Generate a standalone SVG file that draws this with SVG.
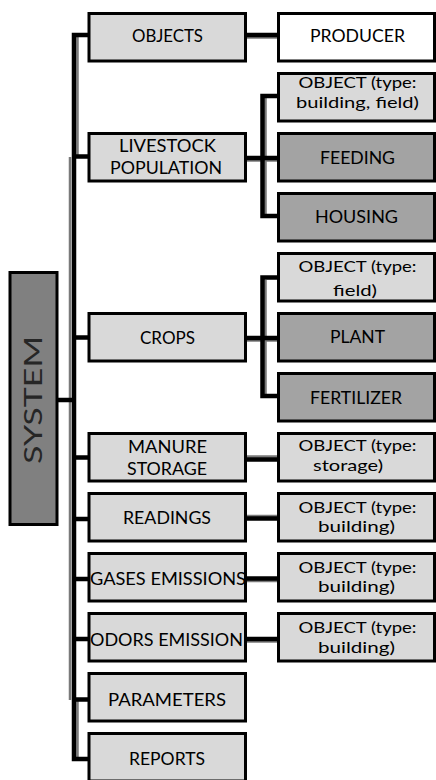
<svg xmlns="http://www.w3.org/2000/svg" width="436" height="780" viewBox="0 0 436 780">
<style>
.b{stroke:#000;stroke-width:3}
.m{fill:#d9d9d9}
.d{fill:#a3a3a3}
.w{fill:#fff}
.s{fill:#808080}
text{font-family:Lato,"Liberation Sans",sans-serif;fill:#000;text-anchor:middle}
.t1{font-size:18px}
.t2{font-size:16.5px}
.t3{font-size:15px}
.k{stroke:#000;stroke-width:4.5;fill:none}
.g{stroke:#7a7a7a;stroke-width:2.5;fill:none}
</style>
<rect width="436" height="780" fill="#fff"/>
<g id="connectors">
  <path class="g" d="M77.5 37V157M70 157V700M77.5 700V757"/>
  <path class="k" d="M89 35H74V759H89M72 156.5H89M72 337.5H89M72 457.5H89M72 519H89M72 579H89M72 639H89M72 699.5H89M57 400H74"/>
  <path class="g" d="M247 37.5H278M247 160.5H278M265.5 98V214M247 340.5H278M265.5 280V394M247 456.5H278M247 516H278M247 581H278M247 641.5H278"/>
  <path class="k" d="M245 35H278M245 158H278M278 96H262.5V216H278M245 338H278M278 277.5H262.5V396H278M245 459.5H278M245 518.5H278M245 578.5H278M245 639H278"/>
</g>
<g id="system"><rect class="b s" x="10" y="272.5" width="47" height="252"/><text transform="translate(42 400) rotate(-90)" style="font-size:24.5px;fill:#262626" textLength="128" lengthAdjust="spacingAndGlyphs">SYSTEM</text></g>
<g id="objects"><rect class="b m" x="89" y="13.5" width="156.5" height="47.5"/><text class="t1" x="167.5" y="42" textLength="71" lengthAdjust="spacingAndGlyphs">OBJECTS</text></g>
<g id="livestock"><rect class="b m" x="89" y="133.5" width="156.5" height="47.5"/><text class="t1" x="167.5" y="152" textLength="97" lengthAdjust="spacingAndGlyphs">LIVESTOCK</text><text class="t1" x="166" y="173.5" textLength="112" lengthAdjust="spacingAndGlyphs">POPULATION</text></g>
<g id="crops"><rect class="b m" x="89" y="313.5" width="156.5" height="47.5"/><text class="t1" x="167.5" y="344" textLength="55" lengthAdjust="spacingAndGlyphs">CROPS</text></g>
<g id="manure"><rect class="b m" x="89" y="433.5" width="156.5" height="47.5"/><text class="t1" x="167.5" y="453" textLength="79" lengthAdjust="spacingAndGlyphs">MANURE</text><text class="t1" x="167" y="475" textLength="80" lengthAdjust="spacingAndGlyphs">STORAGE</text></g>
<g id="readings"><rect class="b m" x="89" y="493.5" width="156.5" height="47.5"/><text class="t1" x="167" y="524" textLength="88" lengthAdjust="spacingAndGlyphs">READINGS</text></g>
<g id="gases"><rect class="b m" x="89" y="553.5" width="156.5" height="47.5"/><text class="t1" x="168" y="585" textLength="156" lengthAdjust="spacingAndGlyphs">GASES EMISSIONS</text></g>
<g id="odors"><rect class="b m" x="89" y="613.5" width="156.5" height="47.5"/><text class="t1" x="166.5" y="645.5" textLength="153" lengthAdjust="spacingAndGlyphs">ODORS EMISSION</text></g>
<g id="parameters"><rect class="b m" x="89" y="673.5" width="156.5" height="47.5"/><text class="t1" x="167" y="706" textLength="118" lengthAdjust="spacingAndGlyphs">PARAMETERS</text></g>
<g id="reports"><rect class="b m" x="89" y="733.5" width="156.5" height="47.5"/><text class="t1" x="167" y="765" textLength="76" lengthAdjust="spacingAndGlyphs">REPORTS</text></g>
<g id="producer"><rect class="b w" x="278.5" y="13.5" width="156" height="47.5"/><text class="t1" x="357.5" y="42" textLength="95" lengthAdjust="spacingAndGlyphs">PRODUCER</text></g>
<g id="obj1"><rect class="b m" x="278.5" y="73.5" width="156" height="47.5"/><text class="t3" x="357.5" y="88" textLength="118" lengthAdjust="spacingAndGlyphs">OBJECT (type:</text><text class="t3" x="357.5" y="108" textLength="123" lengthAdjust="spacingAndGlyphs">building, field)</text></g>
<g id="feeding"><rect class="b d" x="278.5" y="133.5" width="156" height="47.5"/><text class="t1" x="357.5" y="163.5" textLength="75" lengthAdjust="spacingAndGlyphs">FEEDING</text></g>
<g id="housing"><rect class="b d" x="278.5" y="193.5" width="156" height="47.5"/><text class="t1" x="356.5" y="223" textLength="83" lengthAdjust="spacingAndGlyphs">HOUSING</text></g>
<g id="obj2"><rect class="b m" x="278.5" y="253.5" width="156" height="47.5"/><text class="t3" x="357.5" y="272" textLength="118" lengthAdjust="spacingAndGlyphs">OBJECT (type:</text><text class="t3" x="355" y="296" textLength="44" lengthAdjust="spacingAndGlyphs">field)</text></g>
<g id="plant"><rect class="b d" x="278.5" y="313.5" width="156" height="47.5"/><text class="t1" x="357.5" y="343" textLength="55" lengthAdjust="spacingAndGlyphs">PLANT</text></g>
<g id="fertilizer"><rect class="b d" x="278.5" y="373.5" width="156" height="47.5"/><text class="t1" x="356" y="404" textLength="92" lengthAdjust="spacingAndGlyphs">FERTILIZER</text></g>
<g id="obj3"><rect class="b m" x="278.5" y="433.5" width="156" height="47.5"/><text class="t3" x="357.5" y="451" textLength="118" lengthAdjust="spacingAndGlyphs">OBJECT (type:</text><text class="t3" x="348" y="470.5" textLength="70" lengthAdjust="spacingAndGlyphs">storage)</text></g>
<g id="obj4"><rect class="b m" x="278.5" y="493.5" width="156" height="47.5"/><text class="t3" x="357.5" y="512.5" textLength="118" lengthAdjust="spacingAndGlyphs">OBJECT (type:</text><text class="t3" x="356.5" y="532" textLength="77" lengthAdjust="spacingAndGlyphs">building)</text></g>
<g id="obj5"><rect class="b m" x="278.5" y="553.5" width="156" height="47.5"/><text class="t3" x="357.5" y="572.5" textLength="118" lengthAdjust="spacingAndGlyphs">OBJECT (type:</text><text class="t3" x="356.5" y="592" textLength="77" lengthAdjust="spacingAndGlyphs">building)</text></g>
<g id="obj6"><rect class="b m" x="278.5" y="613.5" width="156" height="47.5"/><text class="t3" x="357.5" y="633" textLength="118" lengthAdjust="spacingAndGlyphs">OBJECT (type:</text><text class="t3" x="356.5" y="652.5" textLength="77" lengthAdjust="spacingAndGlyphs">building)</text></g>
</svg>
